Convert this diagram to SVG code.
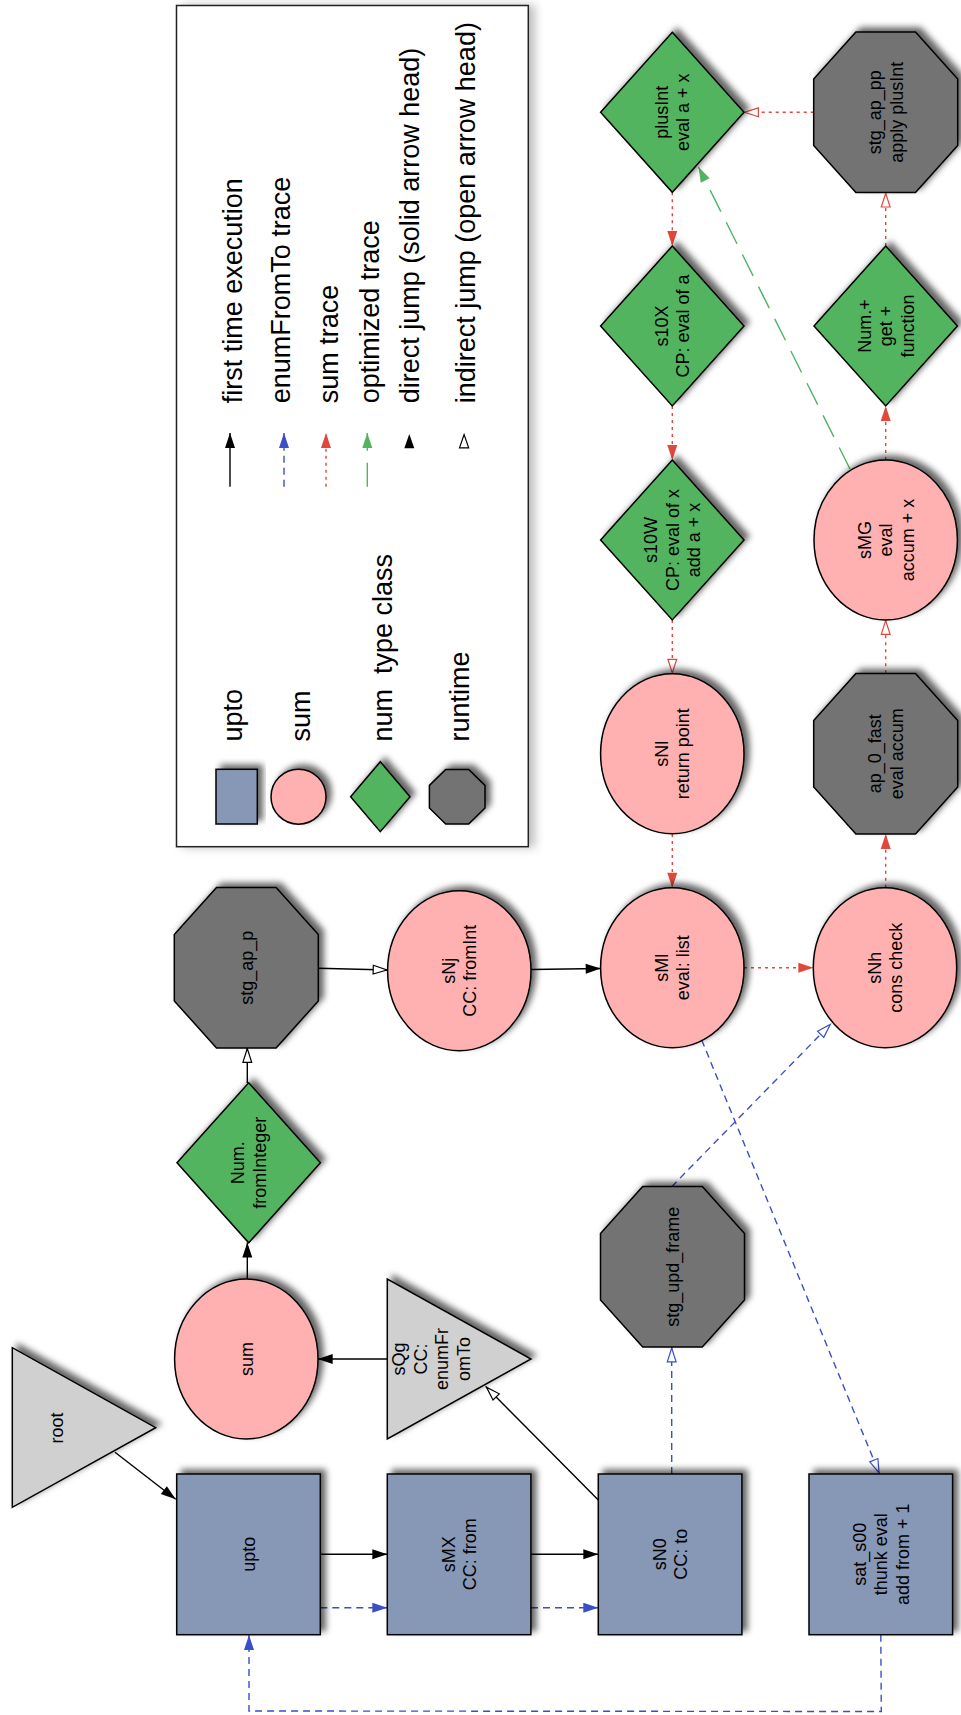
<svg xmlns="http://www.w3.org/2000/svg" width="961" height="1715" viewBox="0 0 961 1715">
<style>
.sh{stroke:#000;stroke-width:1.5}
.up{fill:#8797b6}
.sm{fill:#ffb1b1}
.nm{fill:#53b45f}
.rt{fill:#737373}
.tr{fill:#d0d0d0}
text{font-family:"Liberation Sans",Arial,Helvetica,sans-serif;fill:#000}
.n{font-size:18px;text-anchor:middle}
.lg{font-size:27px;text-anchor:start;white-space:pre}
.e{fill:none;stroke-width:1.4}
.k{stroke:#000}
.b{stroke:#3a4fc6;stroke-dasharray:7,5}
.r{stroke:#e0493a;stroke-dasharray:3,4}
.g{stroke:#52b45e;stroke-dasharray:24,12}
</style>
<defs>
<filter id="ds" x="-20%" y="-20%" width="140%" height="140%">
<feDropShadow dx="5" dy="-4" stdDeviation="3" flood-color="#000" flood-opacity="0.6"/>
</filter>
<filter id="dsl" x="-10%" y="-5%" width="120%" height="110%">
<feDropShadow dx="6" dy="0" stdDeviation="5" flood-color="#000" flood-opacity="0.25"/>
</filter>
<marker id="kf" viewBox="0 0 15 10" markerUnits="userSpaceOnUse" markerWidth="15" markerHeight="10" refX="15" refY="5" orient="auto" overflow="visible"><path d="M0,0 L15,5 L0,10 z" fill="#000"/></marker>
<marker id="ko" viewBox="0 0 15 10" markerUnits="userSpaceOnUse" markerWidth="15" markerHeight="10" refX="15" refY="5" orient="auto" overflow="visible"><path d="M0.6,0.6 L14.4,5 L0.6,9.4 z" fill="#fff" stroke="#000" stroke-width="1.2"/></marker>
<marker id="bf" viewBox="0 0 15 10" markerUnits="userSpaceOnUse" markerWidth="15" markerHeight="10" refX="15" refY="5" orient="auto" overflow="visible"><path d="M0,0 L15,5 L0,10 z" fill="#3a4fc6"/></marker>
<marker id="bo" viewBox="0 0 15 10" markerUnits="userSpaceOnUse" markerWidth="15" markerHeight="10" refX="15" refY="5" orient="auto" overflow="visible"><path d="M0.6,0.6 L14.4,5 L0.6,9.4 z" fill="#fff" stroke="#3a4fc6" stroke-width="1.2"/></marker>
<marker id="rf" viewBox="0 0 15 10" markerUnits="userSpaceOnUse" markerWidth="15" markerHeight="10" refX="15" refY="5" orient="auto" overflow="visible"><path d="M0,0 L15,5 L0,10 z" fill="#e0493a"/></marker>
<marker id="ro" viewBox="0 0 15 10" markerUnits="userSpaceOnUse" markerWidth="15" markerHeight="10" refX="15" refY="5" orient="auto" overflow="visible"><path d="M0.6,0.6 L14.4,5 L0.6,9.4 z" fill="#fff" stroke="#e0493a" stroke-width="1.2"/></marker>
<marker id="gf" viewBox="0 0 15 10" markerUnits="userSpaceOnUse" markerWidth="15" markerHeight="10" refX="15" refY="5" orient="auto" overflow="visible"><path d="M0,0 L15,5 L0,10 z" fill="#52b45e"/></marker>
</defs>

<g id="legend">
<rect x="176.5" y="5.5" width="351.8" height="841.2" fill="#fff" stroke="#222" stroke-width="1.5" filter="url(#dsl)"/>
<rect class="sh up" x="216" y="769.3" width="41.3" height="54.7" filter="url(#ds)"/>
<ellipse class="sh sm" cx="298.5" cy="796.7" rx="27.5" ry="27.5" filter="url(#ds)"/>
<polygon class="sh nm" points="380.3,761.7 410,796.7 380.3,831.7 350.6,796.7" filter="url(#ds)"/>
<polygon class="sh rt" points="445.7,769.4 468.7,769.4 485,785.4 485,808 468.7,824 445.7,824 429.4,808 429.4,785.4" filter="url(#ds)"/>
<text class="lg" transform="translate(241.5,741.5) rotate(-90)">upto</text>
<text class="lg" transform="translate(310,741.5) rotate(-90)">sum</text>
<text class="lg" transform="translate(391.5,741.5) rotate(-90)">num  type class</text>
<text class="lg" transform="translate(469,741.5) rotate(-90)">runtime</text>
<text class="lg" transform="translate(241.5,403.3) rotate(-90)">first time execution</text>
<text class="lg" transform="translate(290,403.3) rotate(-90)">enumFromTo trace</text>
<text class="lg" transform="translate(338.3,403.3) rotate(-90)">sum trace</text>
<text class="lg" transform="translate(379,403.3) rotate(-90)">optimized trace</text>
<text class="lg" transform="translate(419,403.3) rotate(-90)">direct jump (solid arrow head)</text>
<text class="lg" transform="translate(475,403.3) rotate(-90)">indirect jump (open arrow head)</text>
<path class="e k" d="M230,486.7 L230,433" marker-end="url(#kf)"/>
<path class="e b" d="M284,486.7 L284,433" marker-end="url(#bf)"/>
<path class="e r" d="M326,486.7 L326,433" marker-end="url(#rf)"/>
<path class="e g" d="M367.3,486.7 L367.3,433" marker-end="url(#gf)"/>
<polygon points="404.3,448.3 414.3,448.3 409.3,434" fill="#000"/>
<polygon points="459.5,447.8 468.7,447.8 464.1,434.6" fill="#fff" stroke="#000" stroke-width="1.2"/>
</g>

<g id="connectors">
<path class="e k" d="M115,1452.3 L175.7,1499.3" marker-end="url(#kf)"/>
<path class="e k" d="M320.3,1554.3 L387.3,1554.3" marker-end="url(#kf)"/>
<path class="e k" d="M531,1554.3 L598.3,1554.3" marker-end="url(#kf)"/>
<path class="e k" d="M598.3,1500 L486,1386.7" marker-end="url(#ko)"/>
<path class="e k" d="M387.3,1359 L317.7,1359" marker-end="url(#kf)"/>
<path class="e k" d="M247.3,1279 L247.3,1242.6" marker-end="url(#kf)"/>
<path class="e k" d="M247.3,1083 L247.3,1048" marker-end="url(#ko)"/>
<path class="e k" d="M318.3,968.3 L387.6,970" marker-end="url(#ko)"/>
<path class="e k" d="M531,969.5 L600.7,968.5" marker-end="url(#kf)"/>
<path class="e b" d="M320.3,1607.7 L387.3,1607.7" marker-end="url(#bf)"/>
<path class="e b" d="M531,1607.7 L598.3,1607.7" marker-end="url(#bf)"/>
<path class="e b" d="M671.7,1474 L671.7,1347.5" marker-end="url(#bo)"/>
<path class="e b" d="M671.7,1186.7 L830.7,1024" marker-end="url(#bo)"/>
<path class="e b" d="M701.7,1040 L879.3,1473.5" marker-end="url(#bo)"/>
<path class="e b" d="M880.8,1634.7 L881.3,1711.5 L249,1711 L249,1635" marker-end="url(#bf)"/>
<path class="e r" d="M744,967.7 L813.3,967.7" marker-end="url(#rf)"/>
<path class="e r" d="M885.7,887.7 L885.7,834" marker-end="url(#rf)"/>
<path class="e r" d="M885.7,673.3 L885.7,620" marker-end="url(#ro)"/>
<path class="e r" d="M885.7,460 L885.7,406" marker-end="url(#rf)"/>
<path class="e r" d="M885.7,246 L885.7,192.6" marker-end="url(#ro)"/>
<path class="e r" d="M813.7,112.3 L744,112.3" marker-end="url(#ro)"/>
<path class="e r" d="M672.3,192.3 L672.3,246" marker-end="url(#rf)"/>
<path class="e r" d="M672.3,406 L672.3,460" marker-end="url(#rf)"/>
<path class="e r" d="M672.3,620 L672.3,673.7" marker-end="url(#ro)"/>
<path class="e r" d="M672.3,834 L672.3,887.7" marker-end="url(#rf)"/>
<path class="e g" d="M850,469 L698.5,167" marker-end="url(#gf)"/>
</g>

<g id="root">
<polygon class="sh tr" points="12.3,1347.7 12.3,1507.3 155.7,1427.7" filter="url(#ds)"/>
<text class="n" transform="translate(56.2,1428) rotate(-90)"><tspan x="0" y="6.4">root</tspan></text>
</g>
<g id="upto">
<rect class="sh up" x="176.7" y="1474" width="143.6" height="160.7" filter="url(#ds)"/>
<text class="n" transform="translate(248.5,1554.3) rotate(-90)"><tspan x="0" y="6.4">upto</tspan></text>
</g>
<g id="sMX">
<rect class="sh up" x="387.3" y="1474" width="143.6" height="160.7" filter="url(#ds)"/>
<text class="n" transform="translate(459.2,1554.3) rotate(-90)"><tspan x="0" y="-4.4">sMX</tspan><tspan x="0" y="17.2">CC: from</tspan></text>
</g>
<g id="sN0">
<rect class="sh up" x="598.3" y="1474" width="143.6" height="160.7" filter="url(#ds)"/>
<text class="n" transform="translate(670.3,1554.3) rotate(-90)"><tspan x="0" y="-4.4">sN0</tspan><tspan x="0" y="17.2">CC: to</tspan></text>
</g>
<g id="sat_s00">
<rect class="sh up" x="809" y="1474" width="143.6" height="160.7" filter="url(#ds)"/>
<text class="n" transform="translate(880.8,1554.3) rotate(-90)"><tspan x="0" y="-15.2">sat_s00</tspan><tspan x="0" y="6.4">thunk eval</tspan><tspan x="0" y="28">add from + 1</tspan></text>
</g>
<g id="sum">
<ellipse class="sh sm" cx="246.3" cy="1359" rx="71.7" ry="80" filter="url(#ds)"/>
<text class="n" transform="translate(246.3,1359) rotate(-90)"><tspan x="0" y="6.4">sum</tspan></text>
</g>
<g id="sQg">
<polygon class="sh tr" points="387.3,1279 387.3,1439 531,1359" filter="url(#ds)"/>
<text class="n" transform="translate(431.2,1359) rotate(-90)"><tspan x="0" y="-26">sQg</tspan><tspan x="0" y="-4.4">CC:</tspan><tspan x="0" y="17.2">enumFr</tspan><tspan x="0" y="38.8">omTo</tspan></text>
</g>
<g id="stg_upd_frame">
<polygon class="sh rt" points="642.7,1186.4 702.3,1186.4 744.5,1233.5 744.5,1299.9 702.3,1347 642.7,1347 600.5,1299.9 600.5,1233.5" filter="url(#ds)"/>
<text class="n" transform="translate(672.5,1266.7) rotate(-90)"><tspan x="0" y="6.4">stg_upd_frame</tspan></text>
</g>
<g id="NumFromInteger">
<polygon class="sh nm" points="248.7,1082.8 320.4,1162.8 248.7,1242.8 177,1162.8" filter="url(#ds)"/>
<text class="n" transform="translate(248.7,1162.8) rotate(-90)"><tspan x="0" y="-4.4">Num.</tspan><tspan x="0" y="17.2">fromInteger</tspan></text>
</g>
<g id="stg_ap_p">
<polygon class="sh rt" points="216.5,887.4 276.1,887.4 318.3,934.5 318.3,1000.9 276.1,1048 216.5,1048 174.3,1000.9 174.3,934.5" filter="url(#ds)"/>
<text class="n" transform="translate(246.3,967.7) rotate(-90)"><tspan x="0" y="6.4">stg_ap_p</tspan></text>
</g>
<g id="sNj">
<ellipse class="sh sm" cx="459.3" cy="970.7" rx="71.7" ry="80" filter="url(#ds)"/>
<text class="n" transform="translate(459.3,970.7) rotate(-90)"><tspan x="0" y="-4.4">sNj</tspan><tspan x="0" y="17.2">CC: fromInt</tspan></text>
</g>
<g id="sMl">
<ellipse class="sh sm" cx="672.3" cy="967.7" rx="71.7" ry="80" filter="url(#ds)"/>
<text class="n" transform="translate(672.3,967.7) rotate(-90)"><tspan x="0" y="-4.4">sMl</tspan><tspan x="0" y="17.2">eval: list</tspan></text>
</g>
<g id="sNh">
<ellipse class="sh sm" cx="885" cy="967.7" rx="71.7" ry="80" filter="url(#ds)"/>
<text class="n" transform="translate(885,967.7) rotate(-90)"><tspan x="0" y="-4.4">sNh</tspan><tspan x="0" y="17.2">cons check</tspan></text>
</g>
<g id="sNl">
<ellipse class="sh sm" cx="672.3" cy="753.7" rx="71.7" ry="80" filter="url(#ds)"/>
<text class="n" transform="translate(672.3,753.7) rotate(-90)"><tspan x="0" y="-4.4">sNl</tspan><tspan x="0" y="17.2">return point</tspan></text>
</g>
<g id="ap_0_fast">
<polygon class="sh rt" points="855.9,673.4 915.5,673.4 957.7,720.5 957.7,786.9 915.5,834 855.9,834 813.7,786.9 813.7,720.5" filter="url(#ds)"/>
<text class="n" transform="translate(885.7,753.7) rotate(-90)"><tspan x="0" y="-4.4">ap_0_fast</tspan><tspan x="0" y="17.2">eval accum</tspan></text>
</g>
<g id="s10W">
<polygon class="sh nm" points="672.3,460 744,540 672.3,620 600.6,540" filter="url(#ds)"/>
<text class="n" transform="translate(672.3,540) rotate(-90)"><tspan x="0" y="-15.2">s10W</tspan><tspan x="0" y="6.4">CP: eval of x</tspan><tspan x="0" y="28">add a + x</tspan></text>
</g>
<g id="sMG">
<ellipse class="sh sm" cx="885.7" cy="540" rx="71.7" ry="80" filter="url(#ds)"/>
<text class="n" transform="translate(885.7,540) rotate(-90)"><tspan x="0" y="-15.2">sMG</tspan><tspan x="0" y="6.4">eval</tspan><tspan x="0" y="28">accum + x</tspan></text>
</g>
<g id="s10X">
<polygon class="sh nm" points="672.3,246 744,326 672.3,406 600.6,326" filter="url(#ds)"/>
<text class="n" transform="translate(672.3,326) rotate(-90)"><tspan x="0" y="-4.4">s10X</tspan><tspan x="0" y="17.2">CP: eval of a</tspan></text>
</g>
<g id="NumPlus">
<polygon class="sh nm" points="885.7,246 957.4,326 885.7,406 814,326" filter="url(#ds)"/>
<text class="n" transform="translate(885.7,326) rotate(-90)"><tspan x="0" y="-15.2">Num.+</tspan><tspan x="0" y="6.4">get +</tspan><tspan x="0" y="28">function</tspan></text>
</g>
<g id="plusInt">
<polygon class="sh nm" points="672.3,32.3 744,112.3 672.3,192.3 600.6,112.3" filter="url(#ds)"/>
<text class="n" transform="translate(672.3,112.3) rotate(-90)"><tspan x="0" y="-4.4">plusInt</tspan><tspan x="0" y="17.2">eval a + x</tspan></text>
</g>
<g id="stg_ap_pp">
<polygon class="sh rt" points="855.9,32 915.5,32 957.7,79.1 957.7,145.5 915.5,192.6 855.9,192.6 813.7,145.5 813.7,79.1" filter="url(#ds)"/>
<text class="n" transform="translate(885.7,112.3) rotate(-90)"><tspan x="0" y="-4.4">stg_ap_pp</tspan><tspan x="0" y="17.2">apply plusInt</tspan></text>
</g>
</svg>
